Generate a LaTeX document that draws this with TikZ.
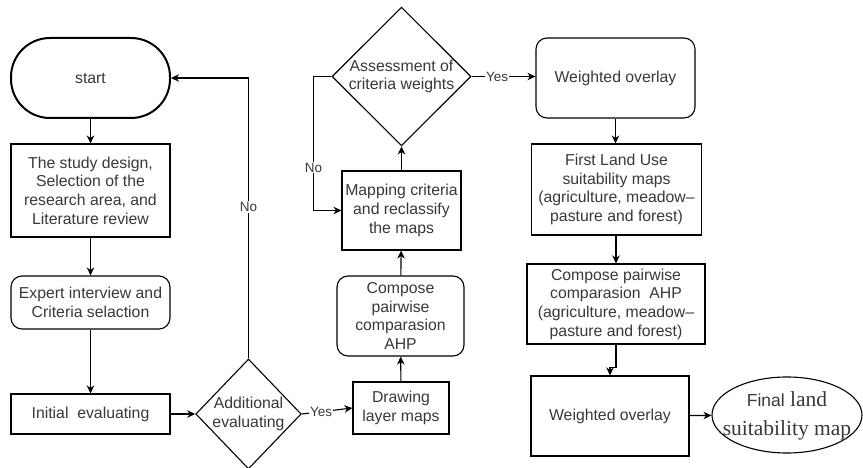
\documentclass[tikz,border=0pt]{standalone}
\usepackage{fontspec}
\setmainfont{Liberation Sans}
\newfontfamily\serifface{Liberation Serif}
\newfontfamily\sansface{Liberation Sans}
\usetikzlibrary{shapes.geometric,arrows.meta,calc}
\tikzset{
  base/.style={draw=black, line width=1.1pt, text=black!78, align=center, inner sep=0pt,
    font=\fontsize{15.8}{18.7}\selectfont},
  box/.style={base, rectangle},
  rbox/.style={base, rectangle, rounded corners=11pt},
  term/.style={base, rectangle, rounded corners=39pt, line width=2pt},
  dec/.style={base, diamond, aspect=1},
  oval/.style={base, ellipse},
  ovaltext/.style={text=black!78, align=center, inner sep=0pt, font=\serifface\fontsize{21.5}{29}\selectfont},
  arr/.style={line width=1.1pt, -{Stealth[length=8pt,width=7.5pt,inset=2.5pt]}},
  lab/.style={fill=white, inner sep=1pt, text=black!78, font=\fontsize{13.5}{16}\selectfont}
}
\begin{document}
\begin{tikzpicture}[x=1pt,y=-1pt]
\useasboundingbox (0,0) rectangle (863,468);
\node[term, minimum width=159pt, minimum height=80pt] (start) at (90.5,78) {start};
\node[box, minimum width=159pt, minimum height=93pt] (b1) at (90.5,190.5) {The study design,\\Selection of the\\research area, and\\Literature review};
\node[rbox, minimum width=159pt, minimum height=53pt] (b2) at (90.5,302.5) {Expert interview and\\Criteria selaction};
\node[box, minimum width=159pt, minimum height=40pt] (b3) at (90.5,414) {Initial\ \ evaluating};
\node[dec, minimum width=104pt, minimum height=110pt] (d1) at (248.5,414) {Additional\\evaluating};
\node[box, minimum width=96pt, minimum height=52pt] (dr) at (401,408) {Drawing\\layer maps};
\node[rbox, minimum width=127pt, minimum height=80pt] (cp1) at (400.5,316) {Compose\\pairwise\\comparasion\\AHP};
\node[box, minimum width=119pt, minimum height=79pt] (map) at (401.5,210.5) {Mapping criteria\\and reclassify\\the maps};
\node[dec, minimum width=139pt, minimum height=132pt] (d2) at (401.5,76.5) {Assessment of\\criteria weights};
\node[rbox, minimum width=159pt, minimum height=80pt] (wo1) at (615.5,78) {Weighted overlay};
\node[box, minimum width=170pt, minimum height=91pt] (flu) at (616.5,189.5) {First Land Use\\suitability maps\\(agriculture, meadow–\\pasture and forest)};
\node[box, minimum width=178pt, minimum height=80pt] (cp2) at (616,304) {Compose pairwise\\comparasion\ \ AHP\\(agriculture, meadow–\\pasture and forest)};
\node[box, minimum width=158pt, minimum height=80pt] (wo2) at (610,416) {Weighted overlay};
\node[oval, minimum width=150pt, minimum height=76pt,
  label={[ovaltext, name=fintext, yshift=-1pt]center:{\sansface\fontsize{17.5}{20}\selectfont Final} land\\suitability map}] (fin) at (787,415) {};

\draw[arr] (start) -- (b1);
\draw[arr] (b1) -- (b2);
\draw[arr] (b2) -- (b3);
\draw[arr] (b3) -- (d1);
\draw[arr] (d1.north) |- node[lab, pos=0.27] {No} (start.east);
\draw[arr] (d1.east) -- node[lab, pos=0.38] {Yes} (dr.west);
\draw[arr] (dr) -- (cp1);
\draw[arr] (cp1) -- (map);
\draw[arr] (map) -- (d2);
\draw[arr] (d2.west) -- ++(-18,0) |- node[lab, pos=0.34] {No} (map.west);
\draw[arr] (d2.east) -- node[lab, pos=0.4] {Yes} (d2.east -| wo1.west);
\draw[arr] (wo1) -- (wo1 |- flu.north);
\draw[arr] (flu.south -| cp2.north) -- (cp2.north);
\draw[arr] (cp2.south) -- ++(0,23) -| (wo2.north);
\draw[arr] (wo2) -- (fin);
\end{tikzpicture}
\end{document}
